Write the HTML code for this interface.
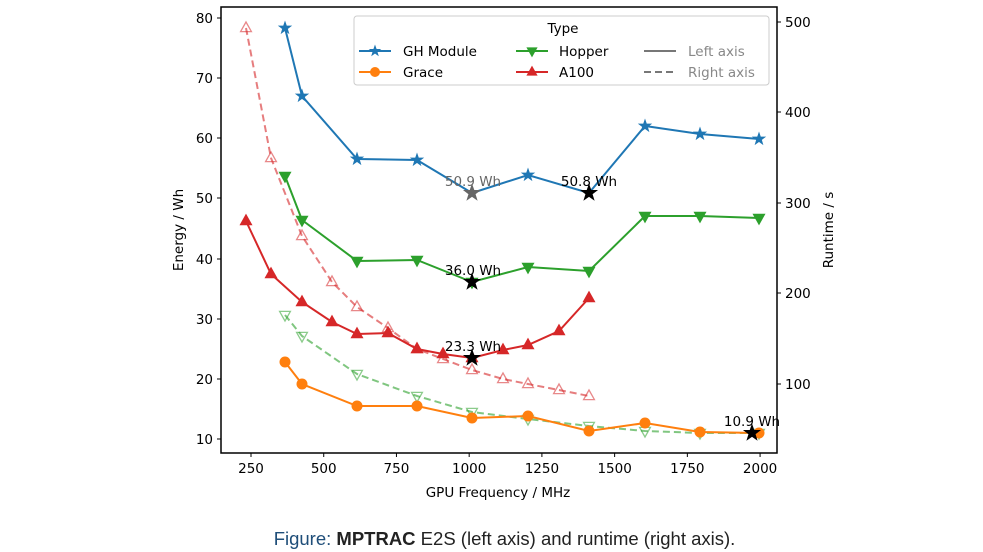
<!DOCTYPE html>
<html><head><meta charset="utf-8"><style>
html,body{margin:0;padding:0;background:#fff;}
svg{display:block;font-family:"DejaVu Sans","Liberation Sans",sans-serif;}
.cap{position:absolute;left:13px;top:528px;width:983px;text-align:center;font-family:"Liberation Sans",sans-serif;font-size:18.5px;color:#222;}
</style></head><body>
<div style="position:relative;width:983px;height:552px;overflow:hidden">
<svg id="s" width="983" height="552" viewBox="0 0 983 552"></svg>
<div class="cap"><span style="color:#1f4e79">Figure:</span> <b>MPTRAC</b> E2S (left axis) and runtime (right axis).</div>
</div>
<script>
const s=document.getElementById('s');let h='';
const L=221,R=777,T=7,B=453;
const ly=[[80,18],[70,78],[60,138],[50,198],[40,259],[30,319],[20,379],[10,439]];
ly.forEach(([v,y])=>{h+=`<line x1="${L-4}" y1="${y}" x2="${L}" y2="${y}" stroke="#000"/><text x="${L-8}" y="${y+5}" font-size="13.5" text-anchor="end">${v}</text>`;});
const ry=[[500,22],[400,112],[300,203],[200,293],[100,384]];
ry.forEach(([v,y])=>{h+=`<line x1="${R}" y1="${y}" x2="${R+4}" y2="${y}" stroke="#000"/><text x="${R+8}" y="${y+5}" font-size="13.5">${v}</text>`;});
[250,500,750,1000,1250,1500,1750,2000].forEach(f=>{const x=251+(f-250)*0.2909;h+=`<line x1="${x}" y1="${B}" x2="${x}" y2="${B+4}" stroke="#000"/><text x="${x}" y="${B+20}" font-size="13.5" text-anchor="middle">${f}</text>`;});
h+=`<text x="498" y="497" font-size="13.5" text-anchor="middle">GPU Frequency / MHz</text>`;
h+=`<text transform="translate(183,230) rotate(-90)" font-size="13.5" text-anchor="middle">Energy / Wh</text>`;
h+=`<text transform="translate(833,230) rotate(-90)" font-size="13.5" text-anchor="middle">Runtime / s</text>`;
function star(x,y,r,c){let p=[];for(let i=0;i<10;i++){const a=-Math.PI/2+i*Math.PI/5,rr=i%2?r*0.4:r;p.push((x+rr*Math.cos(a)).toFixed(1)+','+(y+rr*Math.sin(a)).toFixed(1));}return `<polygon points="${p.join(' ')}" fill="${c}" stroke="${c}"/>`;}
function tri(x,y,r,c,up,fill){const d=up?1:-1;return `<polygon points="${x},${y-d*r} ${x-r*0.9},${y+d*r*0.6} ${x+r*0.9},${y+d*r*0.6}" fill="${fill}" stroke="${c}" stroke-width="1.3"/>`;}
function line(pts,c,dash,op){return `<polyline points="${pts.map(p=>p.join(',')).join(' ')}" fill="none" stroke="${c}" stroke-width="2" ${dash?'stroke-dasharray="7,4"':''} opacity="${op||1}"/>`;}
const rd=[[246,28],[271,158],[302,236],[332,282],[357,307],[388,328],[417,349],[443,359],[472,370],[503,379],[528,384],[559,390],[589,396]];
const gd=[[285,315],[302,336],[357,374],[417,396],[472,412],[528,419],[589,426],[645,431],[700,433],[759,433]];
h+=line(rd,'#d62728',1,0.6);rd.forEach(p=>h+=tri(p[0],p[1],6,'rgba(214,39,40,0.55)',1,'none'));
h+=line(gd,'#2ca02c',1,0.6);gd.forEach(p=>h+=tri(p[0],p[1],6,'rgba(44,160,44,0.55)',0,'none'));
const gh=[[285,28],[302,96],[357,159],[417,160],[472,193],[528,175],[589,193],[645,126],[700,134],[759,139]];
const hop=[[285,176],[302,220],[357,261],[417,260],[472,282],[528,267],[589,271],[645,216],[700,216],[759,218]];
const a1=[[246,221],[271,274],[302,302],[332,322],[357,334],[388,333],[417,349],[443,354],[472,358],[503,350],[528,345],[559,331],[589,298]];
const gr=[[285,362],[302,384],[357,406],[417,406],[472,418],[528,416],[589,431],[645,423],[700,432],[759,433]];
h+=line(gh,'#1f77b4');gh.forEach(p=>h+=star(p[0],p[1],6,'#1f77b4'));
h+=line(hop,'#2ca02c');hop.forEach(p=>h+=tri(p[0],p[1],6,'#2ca02c',0,'#2ca02c'));
h+=line(a1,'#d62728');a1.forEach(p=>h+=tri(p[0],p[1],6,'#d62728',1,'#d62728'));
h+=line(gr,'#ff7f0e');gr.forEach(p=>h+=`<circle cx="${p[0]}" cy="${p[1]}" r="5.5" fill="#ff7f0e"/>`);
h+=star(472,193,8,'#666')+star(589,193,8,'#000')+star(472,282,8,'#000')+star(472,358,8,'#000')+star(752,433,8,'#000');
h+=`<g font-size="13.5" text-anchor="middle"><text x="473" y="186" fill="#666">50.9 Wh</text><text x="589" y="186">50.8 Wh</text><text x="473" y="275">36.0 Wh</text><text x="473" y="351">23.3 Wh</text><text x="752" y="426">10.9 Wh</text></g>`;
h+=`<rect x="354" y="16" width="415" height="69" rx="3" fill="#fff" fill-opacity="0.85" stroke="#ccc"/>`;
h+=`<text x="563" y="33" font-size="13.5" text-anchor="middle">Type</text>`;
h+=`<g font-size="13.5"><line x1="359" y1="51" x2="391" y2="51" stroke="#1f77b4" stroke-width="2"/>${star(375,51,5,'#1f77b4')}<text x="403" y="56">GH Module</text>
<line x1="359" y1="72" x2="391" y2="72" stroke="#ff7f0e" stroke-width="2"/><circle cx="375" cy="72" r="5" fill="#ff7f0e"/><text x="403" y="77">Grace</text>
<line x1="516" y1="51" x2="548" y2="51" stroke="#2ca02c" stroke-width="2"/>${tri(532,51,5,'#2ca02c',0,'#2ca02c')}<text x="559" y="56">Hopper</text>
<line x1="516" y1="72" x2="548" y2="72" stroke="#d62728" stroke-width="2"/>${tri(532,72,5,'#d62728',1,'#d62728')}<text x="559" y="77">A100</text>
<line x1="644" y1="51" x2="676" y2="51" stroke="#777" stroke-width="2"/><text x="688" y="56" fill="#888">Left axis</text>
<line x1="644" y1="72" x2="676" y2="72" stroke="#777" stroke-width="2" stroke-dasharray="7,4"/><text x="688" y="77" fill="#888">Right axis</text></g>`;
h+=`<rect x="${L}" y="${T}" width="${R-L}" height="${B-T}" fill="none" stroke="#000" stroke-width="1.5"/>`;
s.innerHTML=h;
</script>
</body></html>
